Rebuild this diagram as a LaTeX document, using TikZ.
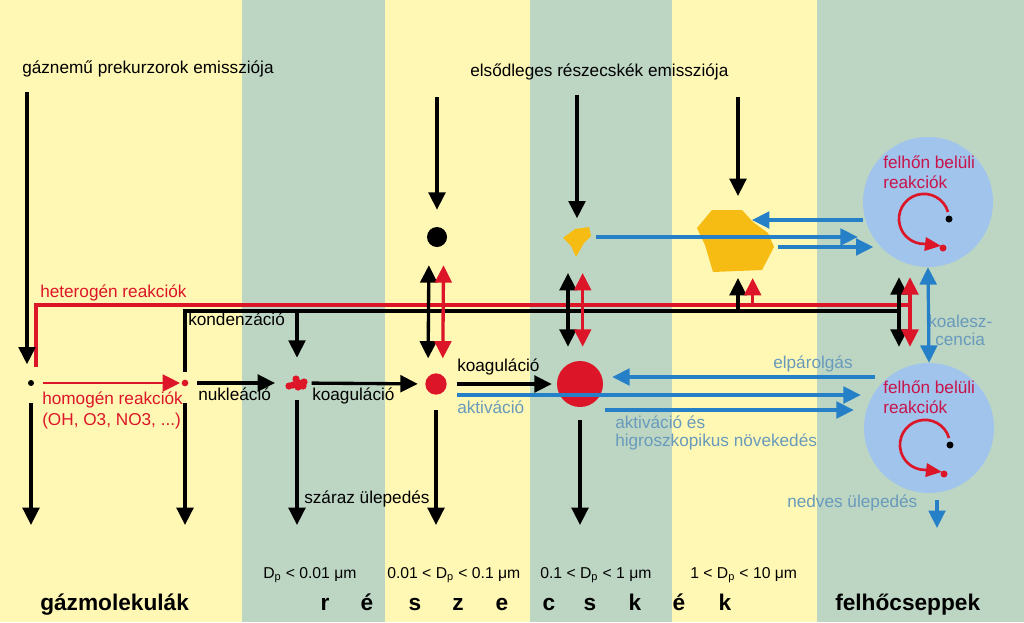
\documentclass[tikz,border=0pt]{standalone}
\usepackage{fontspec}
\setmainfont{Liberation Sans}
\usetikzlibrary{arrows.meta}

\definecolor{sarga}{RGB}{255,248,180}
\definecolor{zold}{RGB}{189,214,196}
\definecolor{piros}{RGB}{220,22,40}
\definecolor{kek}{RGB}{38,128,200}
\definecolor{halvanykek}{RGB}{104,154,188}
\definecolor{felho}{RGB}{160,196,236}
\definecolor{bibor}{RGB}{200,20,75}
\definecolor{okker}{RGB}{246,188,20}

\begin{document}
\begin{tikzpicture}[x=0.75pt,y=-0.75pt,
    >={Triangle[length=13pt,width=12.5pt]},
    every node/.style={inner sep=0pt,font=\fontsize{12.9}{15}\selectfont},
    felirat/.style={anchor=base west},
    nagy/.style={anchor=base,font=\fontsize{17}{20}\selectfont\bfseries},
    meret/.style={anchor=base west,font=\fontsize{11.8}{14}\selectfont},
    fv/.style={line width=2.5pt},
    pv/.style={line width=2.5pt,piros},
    kv/.style={line width=2.4pt,kek},
    pont/.style={circle,fill,minimum size=#1}]

% sávok
\foreach \a/\b/\szin in {0/242/sarga,242/385/zold,385/530/sarga,530/672/zold,672/817/sarga,817/1024/zold}
  \fill[\szin] (\a,0) rectangle (\b,622);

% felhők
\node[pont=97.5pt,felho] (c1) at (928,202) {};
\node[pont=97.5pt,felho] (c2) at (929,428) {};

% feliratok
\node[felirat] (gazem) at (22,73) {gáznemű prekurzorok emissziója};
\node[felirat] (reszem) at (470,76) {elsődleges részecskék emissziója};
\node[felirat,piros] (het) at (40,297) {heterogén reakciók};
\node[felirat] (kond) at (188,325) {kondenzáció};
\node[felirat,piros] (hom) at (42,404) {homogén reakciók};
\node[felirat,piros] (hom2) at (42,425) {(OH, O3, NO3, ...)};
\node[felirat] (nuk) at (198,400) {nukleáció};
\node[felirat] (koag1) at (312,400) {koaguláció};
\node[felirat] (koag2) at (457,371) {koaguláció};
\node[felirat,halvanykek] (akt) at (457,413) {aktiváció};
\node[felirat,halvanykek] (akt2) at (615,428) {aktiváció és};
\node[felirat,halvanykek] (hig) at (615,446) {higroszkopikus növekedés};
\node[felirat,halvanykek] (elp) at (773,368) {elpárolgás};
\node[felirat,halvanykek] (koal) at (928,327) {koalesz-};
\node[felirat,halvanykek] (cen) at (935,345) {cencia};
\node[felirat,halvanykek] (ned) at (787,507) {nedves ülepedés};
\node[felirat] (szar) at (304,503) {száraz ülepedés};
\node[felirat,bibor] (fb1) at (883,168) {felhőn belüli};
\node[felirat,bibor] (fr1) at (883,188) {reakciók};
\node[felirat,bibor] (fb2) at (883,393) {felhőn belüli};
\node[felirat,bibor] (fr2) at (883,413) {reakciók};

\node[meret] (d1) at (263,578) {D\textsubscript{p} < 0.01 μm};
\node[meret] (d2) at (387,578) {0.01 < D\textsubscript{p} < 0.1 μm};
\node[meret] (d3) at (540,578) {0.1 < D\textsubscript{p} < 1 μm};
\node[meret] (d4) at (690,578) {1 < D\textsubscript{p} < 10 μm};
\node[nagy,anchor=base west] (gazmol) at (40,610) {gázmolekulák};
\node[nagy,anchor=base west] (felcs) at (835,610) {felhőcseppek};
\foreach \x/\b in {325/r,367/é,415/s,458/z,502/e,549/c,590/s,635/k,679/é,725/k}
  \node[nagy] (b\x) at (\x,610) {\b};

% részecskék
\node[pont=4.5pt] (g0) at (31,383) {};
\node[pont=5pt,piros] (g1) at (185,383) {};
\coordinate (p1) at (297,383);
\foreach \dx/\dy in {-4/2,-1/-4,2/0,6/3,7/-1,-8/3,1/4}
  \fill[piros] (p1) ++(\dx,\dy) circle (3.6);
\node[pont=16pt,piros] (p2) at (436,384) {};
\node[pont=34.5pt,piros] (p3) at (580,384) {};
\node[pont=15pt] (p2t) at (437,237) {};
\coordinate (p3t) at (577,237);
\fill[okker] (563,238) -- (575,229) -- (589,227) -- (591,236) -- (584,243) -- (576,257) -- (571,246) -- cycle;
\coordinate (p4) at (738,242);
\fill[okker] (697,228) -- (712,210) -- (742,210) -- (753,222) -- (768,233) -- (774,247) -- (762,270) -- (713,272) -- (705,245) -- cycle;

% heterogén / kondenzáció
\coordinate (fk) at (899,311);
\coordinate (fp) at (910,305);
\draw[pv] (g0) ++(5,-16) |- (fp);
\draw[fv] (g1) ++(0,-11) |- (fk);
\draw[fv,->,shorten >=19pt] (p1 |- fk) -- (p1);
\draw[fv,<->,shorten <=13.5pt,shorten >=11pt] ([xshift=-6pt]p2t.south) -- ([xshift=-6pt]p2.north);
\draw[pv,<->,shorten <=13.5pt,shorten >=11pt] ([xshift=5pt]p2t.south) -- ([xshift=5pt]p2.north);
\draw[fv,<->,shorten <=27pt,shorten >=10.5pt] ([xshift=-9pt]p3 |- p3t) -- ([xshift=-9pt]p3.north);
\draw[pv,<->,shorten <=27pt,shorten >=10.5pt] ([xshift=2pt]p3 |- p3t) -- ([xshift=2pt]p3.north);
\draw[fv,->,shorten >=27pt] (p4 |- fk) -- (p4);
\draw[pv,->,shorten >=27pt] ([xshift=11pt]p4 |- fp) -- ([xshift=11pt]p4);
\draw[fv,<->,shorten <=7.5pt,shorten >=12pt] (fk |- c1.south) -- (fk |- c2.north);
\draw[pv,<->,shorten <=7.5pt,shorten >=12pt] (fp |- c1.south) -- (fp |- c2.north);
\draw[kv,<->] (c1.south) -- (c2.north);

% emisszió
\coordinate (e1) at (27,92);
\coordinate (e2) at (437,97);
\coordinate (e3) at (577,95);
\coordinate (e4) at (738,97);
\draw[fv,->,shorten >=14pt] (e1) -- (e1 |- g0);
\draw[fv,->,shorten >=12.75pt] (e2) -- (p2t);
\draw[fv,->,shorten >=14pt] (e3) -- (p3t);
\draw[fv,->,shorten >=34.5pt] (e4) -- (p4);

% vízszintes sor
\draw[line width=2pt,piros,->,shorten <=6.75pt,shorten >=1pt] (g0) -- (g1);
\draw[fv,->,shorten <=6.5pt,shorten >=16.5pt] (g1) -- (p1);
\draw[fv,->,shorten <=11pt,shorten >=5.5pt] (p1) -- (p2);
\draw[fv,->,shorten <=7.7pt,shorten >=3.75pt] (p2) -- (p3);

% ülepedés
\coordinate (alj) at (0,525);
\draw[fv,->,shorten <=12.75pt] (g0) -- (g0 |- alj);
\draw[fv,->,shorten <=12.5pt] (g1) -- (g1 |- alj);
\draw[fv,->,shorten <=12.75pt] (p1) -- (p1 |- alj);
\draw[fv,->,shorten <=11.5pt] (p2) -- (p2 |- alj);
\draw[fv,->,shorten <=9.75pt] (p3) -- (p3 |- alj);

% kék nyilak
\coordinate (t1) at (778,247);
\coordinate (t2) at (752,220);
\coordinate (t3) at (875,377);
\coordinate (t4) at (457,395);
\coordinate (t5) at (605,410);
\coordinate (t6) at (937,528);
\draw[kv,->,shorten <=14pt,shorten >=3.75pt] (p3t) -- (p3t -| c1.west);
\draw[kv,->,shorten >=41pt] (t1) -- (t1 -| c1);
\draw[kv,->] (c1.west |- t2) -- (t2);
\draw[kv,->,shorten >=6.75pt] (t3) -- (t3 -| p3.east);
\draw[kv,->,shorten >=2.25pt] (t4) -- (t4 -| c2.west);
\draw[kv,->,shorten >=7.5pt] (t5) -- (t5 -| c2.west);
\draw[kv,->,shorten <=5pt] (t6 |- c2.south) -- (t6);

% felhőn belüli körforgás
\foreach \c in {c1,c2} {
  \fill (\c) ++(21,17) circle (3.5);
  \fill[piros] (\c) ++(15,46) circle (3.5);
  \draw[line width=2pt,piros,-{Triangle[length=12pt,width=10pt]}]
    (\c) ++(20,10) arc[start angle=-16,end angle=-270,radius=25] -- ++(17,2);
}
\end{tikzpicture}
\end{document}
